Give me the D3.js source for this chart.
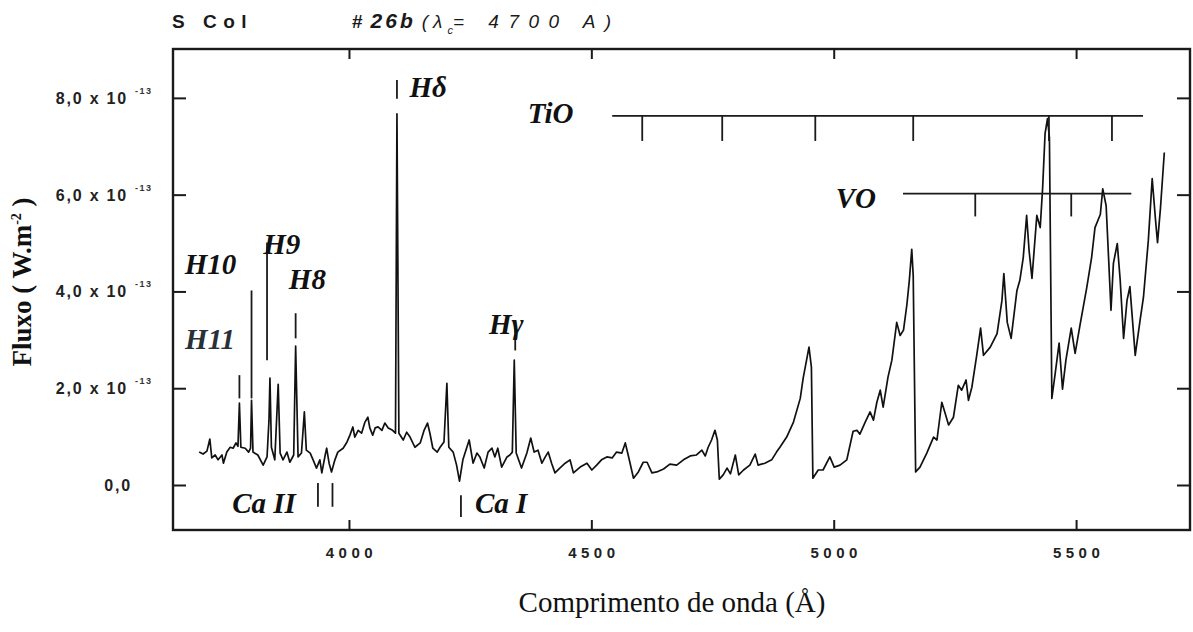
<!DOCTYPE html>
<html><head><meta charset="utf-8">
<script src="https://cdn.jsdelivr.net/npm/d3@7"></script>
<style>body{margin:0;background:#fff;overflow:hidden}</style>
</head><body><svg id="c" width="1193" height="632"></svg>
<script>
// Spectrum of S Col (#26b), wavelength in Angstrom, flux in units of 1e-13 W.m^-2
const wavelength = [3691,3699,3707,3713,3717,3724,3730,3738,3741,3748,3755,3761,3767,3771,3774,3777,3786,3793,3797,3799,3802,3812,3823,3831,3835,3837,3840,3847,3854,3858,3864,3872,3878,3886,3890,3895,3902,3908,3912,3920,3926,3933,3940,3944,3951,3954,3959,3964,3971,3977,3988,3996,4002,4008,4012,4019,4026,4033,4039,4043,4049,4054,4060,4068,4074,4081,4090,4096,4099,4103,4112,4119,4126,4136,4147,4155,4162,4167,4173,4182,4188,4196,4202,4206,4215,4222,4228,4235,4248,4256,4264,4270,4279,4287,4295,4301,4307,4315,4326,4332,4337,4341,4345,4356,4367,4375,4382,4390,4398,4405,4411,4418,4425,4435,4446,4456,4463,4477,4491,4501,4511,4521,4532,4543,4552,4563,4570,4576,4587,4597,4607,4615,4625,4635,4649,4662,4676,4690,4704,4717,4728,4735,4741,4748,4755,4760,4764,4772,4780,4787,4797,4804,4814,4827,4838,4844,4858,4872,4882,4889,4903,4917,4931,4937,4944,4949,4954,4957,4968,4978,4992,5001,5013,5027,5040,5048,5054,5065,5075,5082,5089,5096,5102,5112,5120,5130,5137,5144,5151,5156,5161,5164,5169,5178,5192,5206,5213,5223,5230,5237,5247,5257,5264,5273,5278,5285,5295,5303,5309,5323,5337,5347,5351,5358,5366,5378,5384,5391,5398,5403,5409,5419,5426,5431,5436,5441,5445,5450,5457,5465,5472,5479,5490,5498,5508,5522,5532,5539,5550,5555,5562,5567,5572,5577,5585,5591,5598,5605,5611,5622,5632,5639,5649,5657,5664,5668,5674,5682];
const flux = [0.68,0.64,0.70,0.95,0.56,0.62,0.52,0.62,0.45,0.68,0.78,0.76,0.87,0.80,1.69,0.78,0.76,0.68,0.76,1.75,0.68,0.62,0.41,0.58,1.34,2.21,0.78,0.52,2.08,0.66,0.52,0.68,0.47,0.62,2.87,0.58,0.66,1.51,0.72,0.66,0.52,0.35,0.52,0.25,0.62,0.76,0.45,0.27,0.52,0.68,0.76,0.89,1.03,1.20,0.99,1.13,1.07,1.30,1.40,1.18,1.03,1.18,1.20,1.13,1.28,1.18,1.13,1.07,7.67,1.07,0.93,1.09,0.99,0.78,0.87,1.13,1.28,1.07,0.76,0.68,0.78,0.89,2.10,0.78,0.68,0.41,0.08,0.52,0.93,0.45,0.66,0.58,0.35,0.68,0.76,0.58,0.76,0.37,0.58,0.62,0.68,2.58,0.66,0.35,0.66,0.97,0.68,0.72,0.45,0.58,0.68,0.45,0.25,0.35,0.45,0.52,0.25,0.37,0.45,0.31,0.41,0.52,0.58,0.56,0.68,0.66,0.87,0.62,0.14,0.27,0.47,0.47,0.25,0.27,0.33,0.43,0.41,0.52,0.60,0.62,0.72,0.60,0.78,0.93,1.13,0.93,0.12,0.21,0.35,0.23,0.62,0.21,0.31,0.41,0.64,0.41,0.45,0.52,0.68,0.78,0.99,1.30,1.79,2.21,2.58,2.85,2.43,0.14,0.31,0.31,0.58,0.37,0.41,0.52,1.11,1.13,1.05,1.30,1.51,1.34,1.71,1.96,1.61,2.23,2.58,3.36,3.09,3.20,3.73,4.23,4.87,4.33,0.27,0.37,0.66,0.99,0.93,1.71,1.48,1.24,1.40,2.06,1.96,2.17,1.75,2.02,2.68,3.24,2.68,2.85,3.13,3.81,4.37,3.36,3.03,4.02,4.23,4.70,5.57,4.85,4.27,5.57,5.32,6.14,7.26,7.57,7.18,1.79,2.31,2.93,1.98,2.58,3.24,2.72,3.30,4.08,4.70,5.32,5.59,6.12,5.77,4.70,3.61,4.58,4.99,4.23,3.03,3.81,4.10,2.68,3.40,3.88,5.05,6.33,5.46,5.01,5.71,6.87];

const xTicks = [4000, 4500, 5000, 5500];
const yTicks = [0, 2, 4, 6, 8];
const yTickMantissa = ["0,0", "2,0 x 10", "4,0 x 10", "6,0 x 10", "8,0 x 10"];
const yTickExponent = ["", "-13", "-13", "-13", "-13"];

// Line identification marks: wavelength, flux range of the mark
const markNames = ["H11", "H10", "H9", "H8", "Ca II a", "Ca II b", "Hd", "Ca I", "Hg"];
const markLambda = [3774, 3799, 3831, 3890, 3936, 3966, 4099, 4231, 4343];
const markLow = [1.79, 1.79, 2.58, 3.03, -0.45, -0.45, 7.98, -0.66, 2.78];
const markHigh = [2.27, 4.02, 5.01, 3.55, 0.04, 0.04, 8.37, -0.21, 3.34];

// Molecular band heads
const tioRange = [4543, 5638];
const tioLevel = 7.63, tioTickLow = 7.11;
const tioHeads = [4605, 4770, 4962, 5164, 5444, 5574];
const voRange = [5143, 5614];
const voLevel = 6.02, voTickLow = 5.55;
const voHeads = [5292, 5490];

// Labels: text, wavelength of left edge, flux at baseline
const labelText = ["H10", "H11", "H9", "H8", "Hδ", "Hγ", "TiO", "VO", "Ca II", "Ca I"];
const labelLambda = [3661, 3662, 3823, 3876, 4125, 4289, 4369, 5004, 3759, 4260];
const labelFlux = [4.36, 2.81, 4.78, 4.06, 8.02, 3.12, 7.48, 5.73, -0.58, -0.58];

const svg = d3.select("#c");
const L = 173, T = 49, R = 1190, B = 530;
const x = d3.scaleLinear().domain([3637, 5735]).range([L, R]);
const y = d3.scaleLinear().domain([-0.93, 9.01]).range([B, T]);
const ink = "#1a1a1a";

// frame
svg.append("rect").attr("x", L).attr("y", T).attr("width", R - L).attr("height", B - T)
  .attr("fill", "none").attr("stroke", ink).attr("stroke-width", 2.4);

// axes with inward ticks
const gB = svg.append("g").attr("transform", `translate(0,${B})`)
  .call(d3.axisBottom(x).tickValues(xTicks).tickSizeInner(-10).tickSizeOuter(0).tickPadding(17).tickFormat(d3.format("d")));
const gT = svg.append("g").attr("transform", `translate(0,${T})`)
  .call(d3.axisTop(x).tickValues(xTicks).tickSizeInner(-10).tickSizeOuter(0).tickFormat(""));
const gL = svg.append("g").attr("transform", `translate(${L},0)`)
  .call(d3.axisLeft(y).tickValues(yTicks).tickSizeInner(-13).tickSizeOuter(0).tickFormat(""));
const gR = svg.append("g").attr("transform", `translate(${R},0)`)
  .call(d3.axisRight(y).tickValues(yTicks).tickSizeInner(-13).tickSizeOuter(0).tickFormat(""));
[gB, gT, gL, gR].forEach(g => {
  g.select(".domain").remove();
  g.selectAll(".tick line").attr("stroke", ink).attr("stroke-width", 2);
});
gB.selectAll(".tick text").attr("font-family", "Liberation Sans, Arial, sans-serif")
  .attr("font-weight", "bold").attr("font-size", 15).attr("letter-spacing", "4.5px")
  .attr("dx", "2px").attr("fill", "#222");

// y tick labels
yTicks.forEach((v, i) => {
  svg.append("text")
    .attr("x", i === 0 ? 132 : 128).attr("y", y(v) + 6)
    .attr("text-anchor", "end")
    .attr("font-family", "Liberation Sans, Arial, sans-serif")
    .attr("font-weight", "bold").attr("font-size", 16).attr("letter-spacing", "1.8px")
    .attr("fill", "#222").text(yTickMantissa[i]);
  if (yTickExponent[i]) {
    svg.append("text").attr("x", 135).attr("y", y(v) - 4)
      .attr("font-family", "Liberation Sans, Arial, sans-serif")
      .attr("font-weight", "bold").attr("font-size", 9).attr("letter-spacing", "1.5px")
      .attr("fill", "#333").text(yTickExponent[i]);
  }
});

// axis titles
svg.append("text").attr("transform", "translate(31,282) rotate(-90)")
  .attr("text-anchor", "middle").attr("font-family", "Liberation Serif, Times New Roman, serif")
  .attr("font-weight", "bold").attr("font-size", 27).attr("fill", "#111")
  .html('Fluxo ( W.m<tspan dy="-10" font-size="14">-2</tspan><tspan dy="10"> )</tspan>');
svg.append("text").attr("x", 672).attr("y", 612).attr("text-anchor", "middle")
  .attr("font-family", "Liberation Serif, Times New Roman, serif")
  .attr("font-size", 29).attr("fill", "#111").text("Comprimento de onda (Å)");

// title
const tt = svg.append("text").attr("y", 28).attr("font-family", "Liberation Sans, Arial, sans-serif")
  .attr("font-size", 19).attr("fill", "#1a1a1a");
tt.append("tspan").attr("x", 172).attr("font-weight", "bold").attr("letter-spacing", "6.5px").text("S Col");
tt.append("tspan").attr("x", 352).attr("font-weight", "bold").attr("letter-spacing", "4px").text("#");
tt.append("tspan").attr("dx", 4).attr("font-weight", "bold").attr("font-style", "italic").attr("font-size", 21).attr("letter-spacing", "3px").text("26b");
tt.append("tspan").attr("dx", 6).attr("font-style", "italic").attr("letter-spacing", "5px").text("(λ");
tt.append("tspan").attr("dy", 6).attr("font-size", 11).attr("font-style", "italic").text("c");
tt.append("tspan").attr("dy", -6).attr("font-style", "italic").attr("letter-spacing", "9.5px").text("= 4700 A)");

// spectrum
const pts = wavelength.map((w, i) => [w, flux[i]]);
svg.append("path").datum(pts)
  .attr("d", d3.line().x(d => x(d[0])).y(d => y(d[1])))
  .attr("fill", "none").attr("stroke", "#111").attr("stroke-width", 1.7).attr("stroke-linejoin", "round");

// identification marks
const mk = svg.append("g").attr("stroke", ink).attr("stroke-width", 1.8);
markLambda.forEach((w, i) => {
  mk.append("line").attr("x1", x(w)).attr("x2", x(w)).attr("y1", y(markLow[i])).attr("y2", y(markHigh[i]));
});
// TiO and VO band markers
mk.append("line").attr("x1", x(tioRange[0])).attr("x2", x(tioRange[1])).attr("y1", y(tioLevel)).attr("y2", y(tioLevel));
tioHeads.forEach(w => mk.append("line").attr("x1", x(w)).attr("x2", x(w)).attr("y1", y(tioLevel)).attr("y2", y(tioTickLow)));
mk.append("line").attr("x1", x(voRange[0])).attr("x2", x(voRange[1])).attr("y1", y(voLevel)).attr("y2", y(voLevel));
voHeads.forEach(w => mk.append("line").attr("x1", x(w)).attr("x2", x(w)).attr("y1", y(voLevel)).attr("y2", y(voTickLow)));

// labels
labelText.forEach((t, i) => {
  svg.append("text").attr("x", x(labelLambda[i])).attr("y", y(labelFlux[i]))
    .attr("font-family", "Liberation Serif, Times New Roman, serif")
    .attr("font-weight", "bold").attr("font-style", "italic")
    .attr("font-size", 29).attr("fill", t === "H11" ? "#2a3038" : "#111").text(t);
});
</script></body></html>
